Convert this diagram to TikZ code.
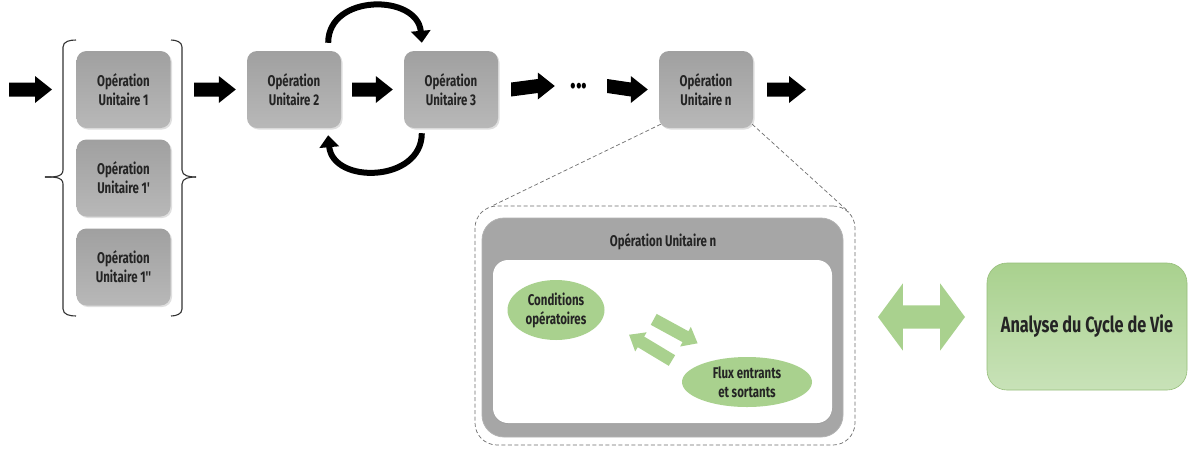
\documentclass[tikz,border=0pt]{standalone}
\usepackage{fontspec}
\newfontfamily\agency{Fira Sans}[FakeStretch=0.74]
\usetikzlibrary{shapes.arrows,shapes.geometric,shadows,arrows.meta,calc}
\definecolor{boxgrayT}{RGB}{160,160,160}
\definecolor{boxgrayB}{RGB}{184,184,184}
\definecolor{panelgray}{RGB}{166,166,166}
\definecolor{txt}{RGB}{36,36,36}
\definecolor{lgreen}{RGB}{169,209,142}
\definecolor{lgreen2}{RGB}{200,226,184}
\definecolor{dgreen}{RGB}{150,190,122}
\definecolor{dashgray}{RGB}{110,110,110}
\tikzset{
  opfont/.style={font=\agency\bfseries\fontsize{15.5}{19}\selectfont},
  opbox/.style={opfont, rounded corners=10pt, minimum width=94pt, minimum height=77pt,
    top color=boxgrayT, bottom color=boxgrayB, draw=none, text=txt, align=center,
    drop shadow={shadow xshift=1.5pt, shadow yshift=-1.5pt, opacity=0.25}},
  blockarrow/.style={to path={
    ([yshift=7pt]\tikztostart) -- ([xshift=-17pt,yshift=7pt]\tikztotarget)
    -- ([xshift=-17pt,yshift=13.5pt]\tikztotarget) -- (\tikztotarget)
    -- ([xshift=-17pt,yshift=-13.5pt]\tikztotarget) -- ([xshift=-17pt,yshift=-7pt]\tikztotarget)
    -- ([yshift=-7pt]\tikztostart) -- cycle}},
  arcarrow/.style={line width=6pt, -{Triangle[length=12pt,width=19pt]}},
  bracestyle/.style={draw=black!80, line width=1.1pt},
  dashline/.style={draw=dashgray, line width=0.7pt, dash pattern=on 4pt off 2.5pt},
  greenell/.style={ellipse, fill=lgreen, draw=none, opfont, text=txt, align=center, inner sep=0pt},
  smallgarrow/.style={single arrow, fill=lgreen, draw=none, inner xsep=0pt, inner ysep=6pt,
    minimum height=50pt, single arrow head extend=5pt,
    single arrow tip angle=78, single arrow head indent=0pt}
}
\begin{document}
\begin{tikzpicture}[x=1pt,y=-1pt]
\useasboundingbox (0,0) rectangle (1189,448);
\fill[white] (0,0) rectangle (1189,448);

% ---- top chain ----
\node[opbox] (b1) at (123.5,89.5) {Opération\\Unitaire 1};
\node[opbox] (b1p) at (123.5,178) {Opération\\Unitaire 1'};
\node[opbox] (b1pp) at (123.5,267) {Opération\\Unitaire 1''};
\node[opbox] (b2) at (294,89.5) {Opération\\Unitaire 2};
\node[opbox] (b3) at (451,89.5) {Opération\\Unitaire 3};
\node[font=\agency\bfseries\fontsize{32}{32}\selectfont, minimum width=26pt, inner sep=0pt] (dots) at (579,86) {...};
\node[opbox] (bn) at (706,89.5) {Opération\\Unitaire n};

% braces
\draw[bracestyle] (76,40) to[out=180,in=90] (63,47) -- (63,170) to[out=-90,in=0] (45,177);
\draw[bracestyle] (45,177) to[out=0,in=90] (63,184) -- (63,309) to[out=-90,in=180] (76,316);
\draw[bracestyle] (171,40) to[out=0,in=90] (182,47) -- (182,170) to[out=-90,in=180] (196,177);
\draw[bracestyle] (196,177) to[out=180,in=90] (182,184) -- (182,309) to[out=-90,in=0] (171,316);
\coordinate (rbrace) at (182,89.5);

% black block arrows
\coordinate (inStart) at (9,89.5);
\coordinate (inEnd) at (52,89.5);
\coordinate (outEnd) at (806,89.5);
\fill[black] (inStart) to[blockarrow] (inEnd);
\fill[black] ([xshift=12pt]rbrace) to[blockarrow] ([xshift=-11pt]b2.west);
\fill[black] ([xshift=11pt]b2.east) to[blockarrow] ([xshift=-11pt]b3.west);
\fill[black] ([xshift=13pt]b3.east) to[blockarrow] ([xshift=-11pt]dots.west);
\fill[black] ([xshift=15pt]dots.east) to[blockarrow] ([xshift=-11pt]bn.west);
\fill[black] ([xshift=14pt]bn.east) to[blockarrow] (outEnd);

% loop arrows
\draw[arcarrow] ([xshift=-13pt,yshift=8pt]b2.north east) to[out=90,in=95,looseness=1.35] ([xshift=18pt,yshift=8pt]b3.north west);
\draw[arcarrow] ([xshift=18pt,yshift=-5pt]b3.south west) to[out=-90,in=-85,looseness=1.35] ([xshift=-13pt,yshift=-7pt]b2.south east);

% ---- zoom on unit operation n ----
\node[draw=dashgray, line width=0.7pt, dash pattern=on 4pt off 2.5pt, rounded corners=22pt,
  minimum width=380pt, minimum height=239pt] (enc) at (665,325.5) {};
\node[fill=panelgray, draw=black!30, line width=0.8pt, rounded corners=22pt,
  minimum width=361pt, minimum height=219pt] (panel) at (662.5,327.5) {};
\node[fill=white, rounded corners=15pt, minimum width=339pt, minimum height=163pt,
  drop shadow={shadow xshift=0pt, shadow yshift=-1pt, opacity=0.15}] (inner) at (662.5,341.5) {};
\node[opfont, text=txt] (ttl) at (663,242) {Opération Unitaire n};

\draw[dashline] ([xshift=2pt,yshift=4pt]bn.south west) -- ([xshift=18pt]enc.north west);
\draw[dashline] ([xshift=-1pt,yshift=4pt]bn.south east) -- ([xshift=-6.4pt,yshift=-6.4pt]enc.north east);

\node[greenell, minimum width=97pt, minimum height=60pt] (c1) at (556,310) {Conditions\\opératoires};
\node[greenell, minimum width=130pt, minimum height=50pt] (c2) at (747,382) {Flux entrants\\et sortants};
\node[smallgarrow, rotate=-28.6] (ga1) at (672.3,329.5) {};
\node[smallgarrow, rotate=149] (ga2) at (653.8,349.6) {};

% ---- LCA ----
\node[double arrow, fill=lgreen, draw=none, inner xsep=0pt, inner ysep=11.5pt, minimum height=87pt,
  double arrow head extend=22pt, double arrow tip angle=107, double arrow head indent=0pt] (dbl) at (921.5,317) {};
\node[rounded corners=20pt, minimum width=200pt, minimum height=127pt, top color=lgreen,
  bottom color=lgreen2, draw=dgreen, line width=0.6pt, text=txt,
  font=\agency\bfseries\fontsize{22}{26}\selectfont] (acv) at (1087,326.5) {Analyse du Cycle de Vie};
\end{tikzpicture}
\end{document}
